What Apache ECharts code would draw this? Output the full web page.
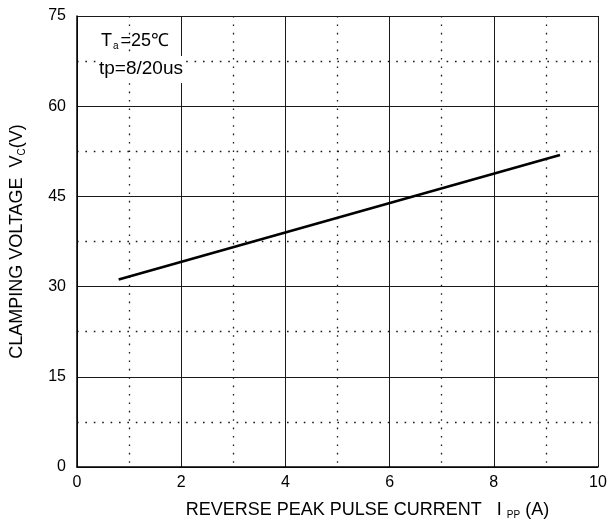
<!DOCTYPE html>
<html>
<head>
<meta charset="utf-8">
<script src="https://cdn.jsdelivr.net/npm/echarts@6/dist/echarts.min.js"></script>
<style>
html,body{margin:0;padding:0;background:#fff;}
#chart{width:610px;height:525px;}
</style>
</head>
<body>
<div id="chart"></div>
<script>
// Data
const currentA = [0.8, 9.27];        // I_PP (A)
const clampV = [31.2, 51.9];         // V_C (V)
const xTicks = [0, 2, 4, 6, 8, 10];
const yTicks = [0, 15, 30, 45, 60, 75];
const noteLine1 = ['T', 'a', '=25℃'];
const noteLine2 = 'tp=8/20us';
const xName = ['REVERSE PEAK PULSE CURRENT   I ', 'PP', ' (A)'];
const yName = ['CLAMPING VOLTAGE  V', 'C', '(V)'];

const FONT = '"Liberation Sans", Arial, sans-serif';
const chart = echarts.init(document.getElementById('chart'));

const gridLine = { color: '#1a1a1a', width: 1 };
const dotLine = { color: '#1a1a1a', width: 1.3, type: [1.6, 6.8] };

chart.setOption({
  animation: false,
  backgroundColor: '#fff',
  grid: { left: 77, right: 12, top: 16, bottom: 57, containLabel: false },
  xAxis: {
    type: 'value',
    min: xTicks[0], max: xTicks[xTicks.length - 1], interval: xTicks[1] - xTicks[0],
    name: xName[0] + '{sub|' + xName[1] + '}' + xName[2],
    nameLocation: 'middle',
    nameGap: 33,
    nameTextStyle: {
      fontFamily: FONT, fontSize: 18, color: '#000', padding: [0, 0, 0, 60],
      rich: { sub: { fontFamily: FONT, fontSize: 10, color: '#000', padding: [10, 0, 0, 0] } }
    },
    axisLine: { show: true, lineStyle: { color: '#000', width: 1.5 } },
    axisTick: { show: false },
    axisLabel: { fontFamily: FONT, fontSize: 16, color: '#000', margin: 8,
      formatter: v => String(xTicks[xTicks.indexOf(v)] ?? v) },
    splitLine: { show: true, lineStyle: gridLine },
    minorTick: { show: false, splitNumber: 2 },
    minorSplitLine: { show: true, lineStyle: dotLine }
  },
  yAxis: {
    type: 'value',
    min: yTicks[0], max: yTicks[yTicks.length - 1], interval: yTicks[1] - yTicks[0],
    name: yName[0] + '{sub|' + yName[1] + '}' + yName[2],
    nameLocation: 'middle',
    nameGap: 50,
    nameTextStyle: {
      fontFamily: FONT, fontSize: 18, color: '#000',
      rich: { sub: { fontFamily: FONT, fontSize: 10, color: '#000', padding: [10, 0, 0, 0] } }
    },
    axisLine: { show: true, lineStyle: { color: '#000', width: 1.5 } },
    axisTick: { show: false },
    axisLabel: { fontFamily: FONT, fontSize: 16, color: '#000', margin: 11,
      formatter: v => String(yTicks[yTicks.indexOf(v)] ?? v) },
    splitLine: { show: true, lineStyle: gridLine },
    minorTick: { show: false, splitNumber: 2 },
    minorSplitLine: { show: true, lineStyle: dotLine }
  },
  series: [{
    type: 'line',
    data: currentA.map((x, i) => [x, clampV[i]]),
    showSymbol: false,
    lineStyle: { color: '#000', width: 2.6 },
    z: 5
  }],
  graphic: [
    {
      type: 'text', left: 101, top: 32, z: 100,
      style: {
        text: '{m|' + noteLine1[0] + '}{s|' + noteLine1[1] + '}{m|' + noteLine1[2] + '}',
        rich: {
          m: { fontFamily: FONT, fontSize: 18, fill: '#000' },
          s: { fontFamily: FONT, fontSize: 10, fill: '#000', padding: [11, 2, 0, 1] }
        }
      }
    },
    {
      type: 'text', left: 96, top: 56, z: 100,
      style: {
        text: noteLine2, fontFamily: FONT, fontSize: 19, fill: '#000',
        backgroundColor: '#fff', padding: [3, 3, 5, 3]
      }
    }
  ]
});
</script>
</body>
</html>
